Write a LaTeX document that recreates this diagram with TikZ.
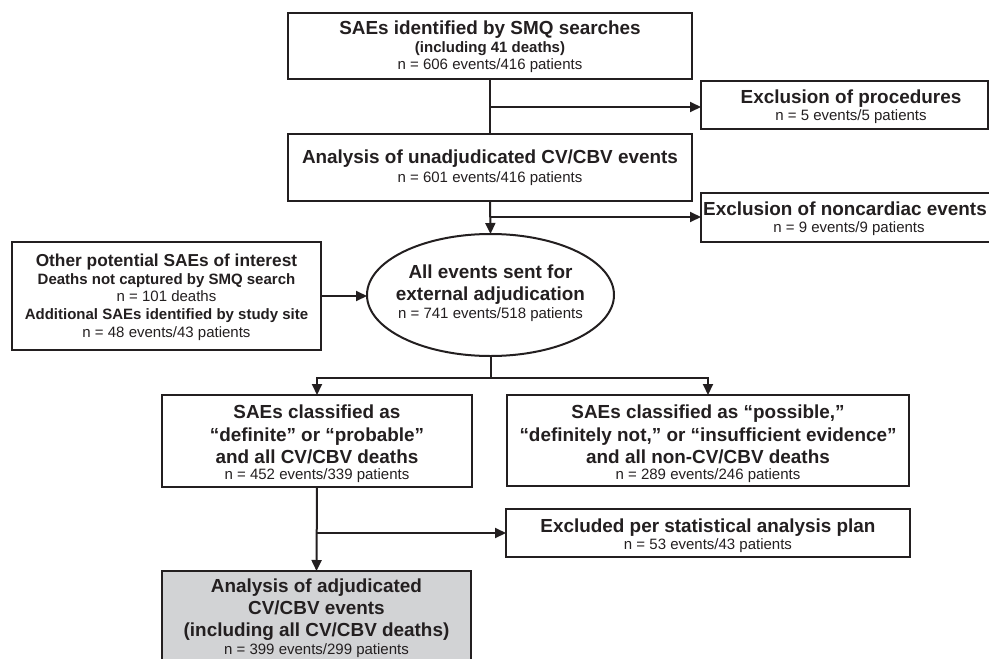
\documentclass[tikz,border=0pt]{standalone}
\usepackage{fontspec}
\setmainfont{Liberation Sans}
\usetikzlibrary{arrows.meta,shapes.geometric}
\definecolor{ink}{HTML}{231F20}
\definecolor{boxgray}{HTML}{D2D3D5}
\tikzset{
  box/.style={draw=ink, line width=2pt, rectangle, inner sep=0pt, outer sep=0pt, fill=white},
  oval/.style={draw=ink, line width=2pt, ellipse, inner sep=0pt, outer sep=0pt, fill=white},
  ttl/.style={anchor=base, inner sep=0pt, text=ink, font=\fontsize{18.9}{22}\selectfont\bfseries},
  ttlsmall/.style={anchor=base, inner sep=0pt, text=ink, font=\fontsize{17.3}{20}\selectfont\bfseries},
  sub/.style={anchor=base, inner sep=0pt, text=ink, font=\fontsize{15}{18}\selectfont\bfseries},
  num/.style={anchor=base, inner sep=0pt, text=ink, font=\fontsize{15}{18}\selectfont},
  conn/.style={draw=ink, line width=2pt},
  arr/.style={conn, -{Triangle[length=11pt,width=10pt]}}
}
\begin{document}
\begin{tikzpicture}[x=1pt,y=-1pt]
\useasboundingbox (0,0) rectangle (989,659);
\clip (0,0) rectangle (989,659);

% boxes
\node[box, minimum width=404pt, minimum height=66pt] (b1) at (490,46) {};
\node[box, minimum width=287pt, minimum height=48pt] (ex1) at (844.5,105) {};
\node[box, minimum width=404pt, minimum height=67pt] (b2) at (490,167.5) {};
\node[box, minimum width=300pt, minimum height=49pt] (ex2) at (851,217.5) {};
\node[box, minimum width=309pt, minimum height=108pt] (lb) at (166.5,296) {};
\node[oval, minimum width=247pt, minimum height=122pt] (ell) at (490.5,295) {};
\node[box, minimum width=310pt, minimum height=92pt] (c1) at (317,441) {};
\node[box, minimum width=402pt, minimum height=91pt] (c2) at (708,440.5) {};
\node[box, minimum width=404pt, minimum height=48pt] (ex3) at (708,533) {};
\node[box, fill=boxgray, minimum width=309pt, minimum height=130pt] (d) at (316.5,636) {};

% connectors
\coordinate (j1) at (490,107);
\coordinate (j2) at (490,217);
\coordinate (j3) at (490.5,378);
\coordinate (j4) at (317,533);
\draw[conn] (b1.south) -- (b2.north);
\draw[arr] (j1) -- (j1 -| ex1.west);
\draw[arr] (b2.south) -- (ell.north);
\draw[arr] (j2) -- (j2 -| ex2.west);
\draw[arr] (lb.east) -- (lb.east -| ell.west);
\draw[conn] (ell.south) -- (j3);
\draw[arr] (j3) -| (c1.north);
\draw[arr] (j3) -| (c2.north);
\draw[arr] (c1.south) -- (d.north);
\draw[arr] (j4) -- (j4 -| ex3.west);

% texts
\node[ttl] (b1a) at (490,34) {SAEs identified by SMQ searches};
\node[sub] (b1b) at (490,52) {(including 41 deaths)};
\node[num] (b1c) at (490,69) {n = 606 events/416 patients};

\node[ttl] (b2a) at (490,163) {Analysis of unadjudicated CV/CBV events};
\node[num] (b2b) at (490,182) {n = 601 events/416 patients};

\node[ttl] (ex1a) at (851,103) {Exclusion of procedures};
\node[num] (ex1b) at (851,120) {n = 5 events/5 patients};

\node[ttl] (ex2a) at (845,215) {Exclusion of noncardiac events};
\node[num] (ex2b) at (849,232) {n = 9 events/9 patients};

\node[ttlsmall] (lba) at (166.5,266) {Other potential SAEs of interest};
\node[sub] (lbb) at (166.5,284) {Deaths not captured by SMQ search};
\node[num] (lbc) at (166.5,301) {n = 101 deaths};
\node[sub] (lbd) at (166.5,319) {Additional SAEs identified by study site};
\node[num] (lbe) at (166.5,337) {n = 48 events/43 patients};

\node[ttl] (ella) at (490.5,278) {All events sent for};
\node[ttl] (ellb) at (490.5,300) {external adjudication};
\node[num] (ellc) at (490.5,318) {n = 741 events/518 patients};

\node[ttl] (c1a) at (317,418) {SAEs classified as};
\node[ttl] (c1b) at (317,441) {“definite” or “probable”};
\node[ttl] (c1c) at (317,463) {and all CV/CBV deaths};
\node[num] (c1d) at (317,479) {n = 452 events/339 patients};

\node[ttl] (c2a) at (708,418) {SAEs classified as “possible,”};
\node[ttl] (c2b) at (708,441) {“definitely not,” or “insufficient evidence”};
\node[ttl] (c2c) at (708,463) {and all non-CV/CBV deaths};
\node[num] (c2d) at (708,479) {n = 289 events/246 patients};

\node[ttl] (ex3a) at (708,532) {Excluded per statistical analysis plan};
\node[num] (ex3b) at (708,549) {n = 53 events/43 patients};

\node[ttl] (da) at (316.5,592) {Analysis of adjudicated};
\node[ttl] (db) at (316.5,614) {CV/CBV events};
\node[ttl] (dc) at (316.5,636) {(including all CV/CBV deaths)};
\node[num] (dd) at (316.5,654) {n = 399 events/299 patients};
\end{tikzpicture}
\end{document}
